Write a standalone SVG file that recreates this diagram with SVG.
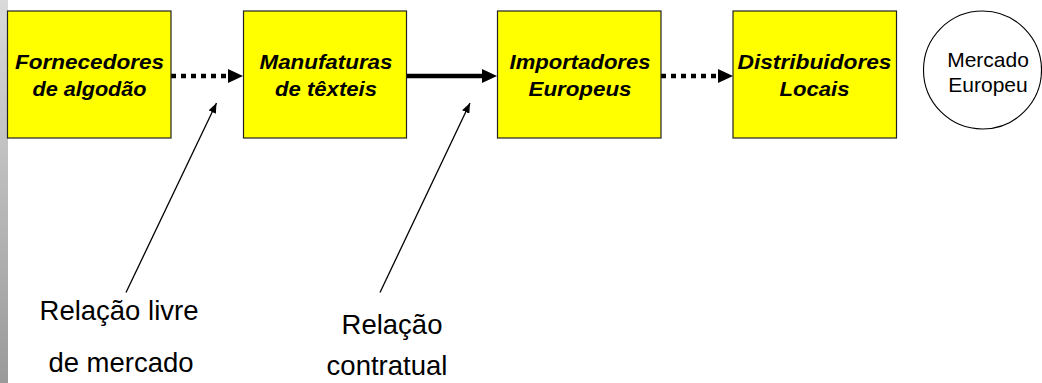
<svg xmlns="http://www.w3.org/2000/svg" width="1042" height="383" viewBox="0 0 1042 383">
  <defs>
    <linearGradient id="sidebar" x1="0" y1="0" x2="0" y2="1">
      <stop offset="0" stop-color="#dadada"/>
      <stop offset="1" stop-color="#9a9a9a"/>
    </linearGradient>
    <marker id="bigHead" markerUnits="userSpaceOnUse" viewBox="0 0 15 14" refX="0" refY="7" markerWidth="15" markerHeight="14" orient="auto">
      <path d="M0,0 L15,7 L0,14 z" fill="#000"/>
    </marker>
    <marker id="smallHead" markerUnits="userSpaceOnUse" viewBox="0 0 10 8" refX="10" refY="4" markerWidth="10" markerHeight="8" orient="auto">
      <path d="M0,0 L10,4 L0,8 z" fill="#000"/>
    </marker>
  </defs>
  <style>
    .box { fill: #ffff00; stroke: #222; stroke-width: 1.2; }
    .btxt { font-family: "Liberation Sans", Arial, sans-serif; font-weight: bold; font-style: italic; font-size: 21px; fill: #000; text-anchor: middle; }
    .ctxt { font-family: "Liberation Sans", Arial, sans-serif; font-size: 21px; fill: #000; text-anchor: middle; }
    .ltxt { font-family: "Liberation Sans", Arial, sans-serif; font-size: 27.5px; fill: #000; text-anchor: middle; }
    .flow { fill: none; stroke: #000; stroke-width: 4.5; }
    .dotted { stroke-dasharray: 5 5; }
    .pointer { fill: none; stroke: #000; stroke-width: 1.3; }
  </style>
  <rect x="0" y="0" width="1042" height="383" fill="#fff"/>
  <rect x="0" y="0" width="8" height="383" fill="url(#sidebar)"/>

  <g id="connectors">
    <path class="flow dotted" d="M171,76 L228,76" marker-end="url(#bigHead)"/>
    <path class="flow" d="M407,76 L482,76" marker-end="url(#bigHead)"/>
    <path class="flow dotted" d="M661,76 L718,76" marker-end="url(#bigHead)"/>
    <path class="pointer" d="M126,292.5 L216.5,103" marker-end="url(#smallHead)"/>
    <path class="pointer" d="M380,292.5 L470,103" marker-end="url(#smallHead)"/>
  </g>

  <g id="node-fornecedores">
    <rect class="box" x="7.5" y="11" width="163.5" height="127"/>
    <text class="btxt" x="89.5" y="69" textLength="149" lengthAdjust="spacingAndGlyphs">Fornecedores</text>
    <text class="btxt" x="89.5" y="96" textLength="114" lengthAdjust="spacingAndGlyphs">de algodão</text>
  </g>
  <g id="node-manufaturas">
    <rect class="box" x="243.5" y="11" width="163" height="127"/>
    <text class="btxt" x="326" y="69" textLength="133" lengthAdjust="spacingAndGlyphs">Manufaturas</text>
    <text class="btxt" x="326" y="96" textLength="102" lengthAdjust="spacingAndGlyphs">de têxteis</text>
  </g>
  <g id="node-importadores">
    <rect class="box" x="497.5" y="11" width="163.5" height="127"/>
    <text class="btxt" x="580" y="69" textLength="141" lengthAdjust="spacingAndGlyphs">Importadores</text>
    <text class="btxt" x="580" y="96" textLength="103" lengthAdjust="spacingAndGlyphs">Europeus</text>
  </g>
  <g id="node-distribuidores">
    <rect class="box" x="733" y="11" width="163.5" height="127"/>
    <text class="btxt" x="814.5" y="69" textLength="154" lengthAdjust="spacingAndGlyphs">Distribuidores</text>
    <text class="btxt" x="814.5" y="96" textLength="70" lengthAdjust="spacingAndGlyphs">Locais</text>
  </g>
  <g id="node-mercado">
    <ellipse cx="982.5" cy="70" rx="59" ry="59" fill="#fff" stroke="#000" stroke-width="1.1"/>
    <text class="ctxt" x="988" y="66.5">Mercado</text>
    <text class="ctxt" x="988" y="91.5">Europeu</text>
  </g>
  <g id="label-livre">
    <text class="ltxt" x="119" y="320">Relação livre</text>
    <text class="ltxt" x="121" y="372">de mercado</text>
  </g>
  <g id="label-contratual">
    <text class="ltxt" x="392" y="334">Relação</text>
    <text class="ltxt" x="387" y="375">contratual</text>
  </g>
</svg>
